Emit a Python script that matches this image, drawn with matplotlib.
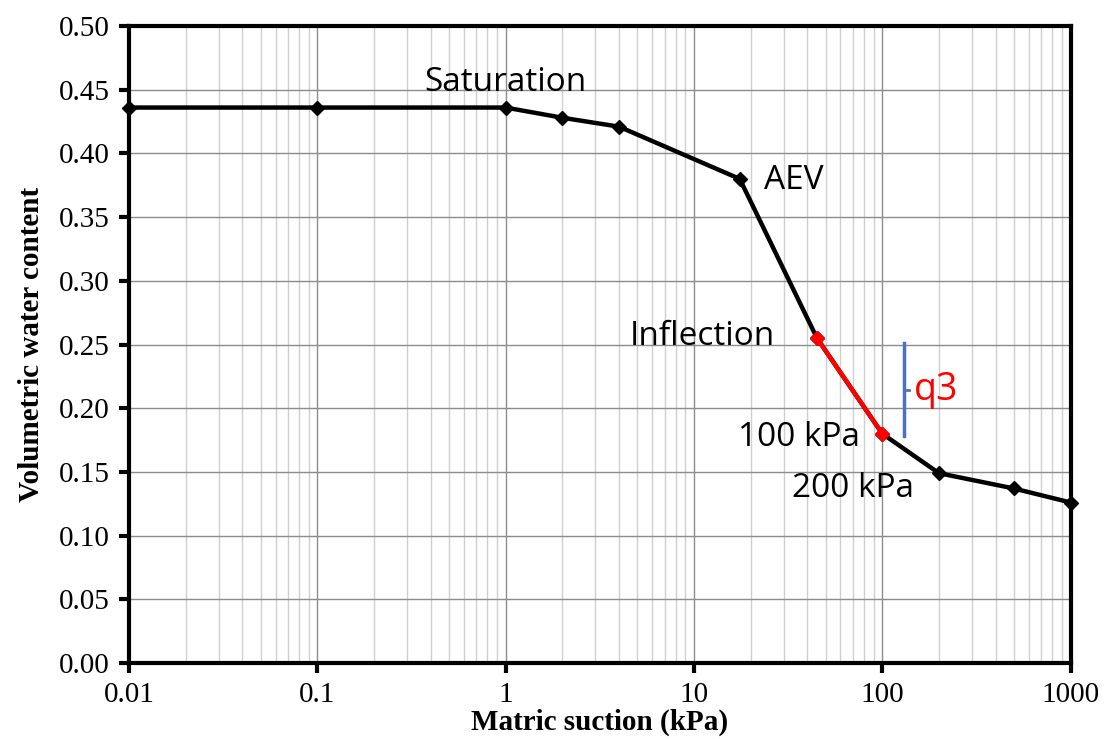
import matplotlib
matplotlib.use("Agg")
import matplotlib.pyplot as plt
from matplotlib.ticker import FixedLocator, LogLocator, NullFormatter

# Soil water characteristic curve
suction = [0.01, 0.1, 1, 2, 4, 17.5, 45, 100, 200, 500, 1000]
theta = [0.436, 0.436, 0.436, 0.428, 0.421, 0.380, 0.255, 0.180, 0.149, 0.137, 0.126]

# red segment (inflection -> 100 kPa)
red_x = [45, 100]
red_y = [0.255, 0.180]

# q3 bracket
q3_x = 131
q3_top, q3_bot = 0.251, 0.178

xticks = [0.01, 0.1, 1, 10, 100, 1000]
xtick_labels = ["0.01", "0.1", "1", "10", "100", "1000"]
yticks = [i * 0.05 for i in range(11)]

fig = plt.figure(figsize=(11.06, 7.39), dpi=100)
ax = fig.add_axes([0.1166, 0.1028, 0.8514, 0.862])

ax.plot(suction, theta, color="black", lw=3.2, marker="D", ms=7.5, zorder=3, clip_on=False)
ax.plot(red_x, red_y, color="red", lw=3.2, marker="D", ms=7.5, zorder=4, clip_on=False)

# bracket for q3
ax.plot([q3_x, q3_x], [q3_bot, q3_top], color="#4a72c4", lw=2.5, zorder=3)
ax.plot([q3_x, q3_x * 1.06], [(q3_top + q3_bot) / 2] * 2, color="#4a72c4", lw=2, zorder=3)
ax.text(q3_x * 1.12, (q3_top + q3_bot) / 2, "q3", color="red", fontsize=27,
        family="Open Sans", va="center", ha="left")

lab = dict(fontsize=24, family="Open Sans", color="black")
ax.text(1.0, 0.456, "Saturation", ha="center", va="center", **lab)
ax.text(23.5, 0.379, "AEV", ha="left", va="center", **lab)
ax.text(27, 0.256, "Inflection", ha="right", va="center", **lab)
ax.text(76, 0.177, "100 kPa", ha="right", va="center", **lab)
ax.text(33, 0.137, "200 kPa", ha="left", va="center", **lab)

ax.set_xscale("log")
ax.set_xlim(0.01, 1000)
ax.set_ylim(0, 0.5)
ax.xaxis.set_major_locator(FixedLocator(xticks))
ax.set_xticklabels(xtick_labels)
ax.xaxis.set_minor_locator(LogLocator(base=10, subs=range(2, 10), numticks=20))
ax.xaxis.set_minor_formatter(NullFormatter())
ax.set_yticks(yticks)
ax.set_yticklabels(["%.2f" % v for v in yticks])

ax.grid(which="major", color="#8c8c8c", lw=1.0)
ax.grid(which="minor", axis="x", color="#cfcfcf", lw=1.0)
ax.set_axisbelow(True)

for s in ax.spines.values():
    s.set_linewidth(3)
ax.tick_params(which="major", direction="out", length=7, width=3, labelsize=21, pad=7)
ax.tick_params(which="minor", length=0)
for t in ax.get_xticklabels() + ax.get_yticklabels():
    t.set_fontfamily("Liberation Serif")

ax.set_xlabel("Matric suction (kPa)", fontsize=21, fontweight="bold",
              family="Liberation Serif", labelpad=0)
ax.set_ylabel("Volumetric water content", fontsize=21, fontweight="bold",
              family="Liberation Serif", labelpad=10)

fig.savefig("out.png", dpi=100)
